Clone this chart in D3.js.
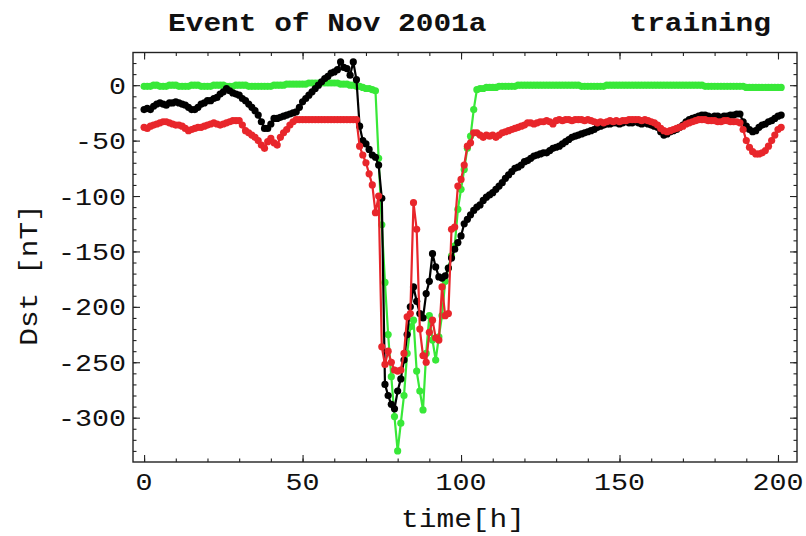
<!DOCTYPE html>
<html>
<head>
<meta charset="utf-8">
<script src="https://cdn.jsdelivr.net/npm/d3@7"></script>
<style>
  html, body { margin: 0; padding: 0; background: #fff; }
  svg { display: block; }
</style>
</head>
<body>
<svg id="chart" width="806" height="536"></svg>
<script>
// Hourly Dst index for the November 2001 storm (training event)
const hours = d3.range(0, 202);

// Observed Dst [nT]
const dstObserved = [
  -22,-21,-22,-19,-17,-16,-17,-18,-16,-16,
  -15,-16,-17,-18,-20,-22,-22,-20,-17,-16,
  -14,-14,-12,-11,-8,-6,-3,-5,-7,-8,
  -9,-12,-14,-17,-20,-23,-27,-33,-39,-39,
  -35,-30,-30,-29,-28,-27,-26,-25,-24,-20,
  -15,-12,-9,-6,-3,0,3,6,8,11,
  12,14,21,16,15,9,21,5,-37,-50,
  -53,-58,-63,-65,-72,-102,-270,-280,-288,-292,
  -276,-265,-248,-225,-200,-182,-195,-206,-210,-188,
  -177,-152,-164,-173,-174,-172,-165,-156,-148,-142,
  -136,-125,-121,-117,-113,-110,-108,-104,-101,-99,
  -97,-94,-91,-88,-84,-81,-78,-75,-74,-72,
  -69,-68,-66,-64,-63,-62,-61,-61,-59,-57,
  -56,-55,-53,-51,-49,-47,-46,-45,-44,-43,
  -42,-41,-40,-38,-37,-36,-35,-35,-34,-34,
  -35,-34,-33,-34,-34,-33,-34,-35,-34,-35,
  -36,-37,-38,-42,-45,-44,-42,-41,-40,-38,
  -36,-33,-31,-30,-29,-28,-27,-27,-28,-29,
  -28,-28,-29,-28,-28,-27,-27,-26,-26,-33,
  -37,-40,-42,-41,-38,-36,-35,-33,-32,-30,
  -28,-27
];

// Predicted Dst, model A (red) [nT]
const dstPredictedA = [
  -38,-39,-37,-36,-35,-34,-33,-33,-34,-35,
  -36,-36,-37,-39,-41,-40,-39,-38,-38,-37,
  -36,-35,-34,-35,-36,-35,-34,-33,-32,-32,
  -32,-36,-41,-43,-45,-47,-50,-54,-57,-51,
  -48,-52,-54,-47,-43,-40,-36,-33,-31,-31,
  -31,-31,-31,-31,-31,-31,-31,-31,-31,-31,
  -31,-31,-31,-31,-31,-31,-31,-31,-55,-63,
  -70,-80,-90,-115,-100,-236,-252,-240,-250,-257,
  -258,-257,-242,-209,-206,-106,-130,-220,-244,-250,
  -223,-212,-228,-230,-182,-208,-206,-130,-128,-91,
  -85,-72,-55,-52,-43,-43,-45,-47,-45,-46,
  -45,-47,-45,-43,-42,-41,-40,-39,-38,-37,
  -36,-34,-34,-35,-34,-33,-33,-32,-33,-35,
  -32,-31,-32,-31,-31,-32,-31,-31,-31,-32,
  -31,-32,-33,-34,-33,-34,-33,-32,-33,-32,
  -33,-32,-32,-31,-31,-31,-31,-32,-31,-32,
  -33,-34,-36,-39,-41,-42,-41,-40,-39,-38,
  -37,-35,-34,-33,-32,-31,-31,-31,-32,-32,
  -32,-33,-33,-32,-32,-33,-33,-33,-34,-40,
  -50,-56,-60,-62,-62,-61,-59,-55,-50,-45,
  -40,-38
];

// Predicted Dst, model B (green) [nT]
const dstPredictedB = [
  -1,-1,-1,0,0,-1,-1,-1,0,0,
  0,-1,-1,-1,-1,0,0,0,-1,-1,
  -1,-1,0,0,0,0,-1,-1,-1,0,
  0,0,0,-1,-1,-1,-1,-1,-1,-1,
  -1,0,0,0,0,1,1,1,1,1,
  1,1,2,2,2,2,2,2,2,2,
  2,2,1,1,1,0,0,-1,-1,-2,
  -3,-3,-4,-5,-66,-126,-178,-225,-263,-299,
  -330,-305,-280,-242,-218,-212,-258,-276,-293,-242,
  -208,-230,-248,-227,-208,-177,-165,-154,-145,-112,
  -94,-76,-57,-46,-22,-4,-3,-3,-2,-2,
  -2,-2,-1,-1,-1,-1,-1,-1,0,0,
  0,0,0,0,0,0,0,0,0,0,
  0,0,0,0,0,0,0,0,-1,-1,
  -1,-1,-1,-1,-1,-1,0,0,0,0,
  0,0,0,0,0,0,0,0,0,0,
  0,0,0,0,0,0,0,0,0,0,
  0,0,0,0,0,0,0,-1,-1,-1,
  -1,-1,-1,-1,-1,-1,-1,-1,-1,-1,
  -2,-2,-2,-2,-2,-2,-2,-2,-2,-2,
  -2,-2
];

const xTicks = [0, 50, 100, 150, 200];
const yTicks = [0, -50, -100, -150, -200, -250, -300];
const xMinorTicks = d3.range(0, 201, 10);
const yMinorTicks = d3.range(-330, 21, 10);

const titleLeft = "Event of Nov 2001a";
const titleRight = "training";
const xLabel = "time[h]";
const yLabel = "Dst [nT]";

const series = [
  { values: dstPredictedB, color: "#38e838" },
  { values: dstObserved,   color: "#000000" },
  { values: dstPredictedA, color: "#e8262b" }
];

// Plot frame in pixels
const frame = { left: 133, right: 797, top: 52.5, bottom: 462 };
const FONT = "'Liberation Mono', 'Courier New', monospace";
const STRETCH = 1.18;

const svg = d3.select("#chart");

const x = d3.scaleLinear().domain([-3.5, 206]).range([frame.left, frame.right]);
const y = d3.scaleLinear().domain([-340, 29.5]).range([frame.bottom, frame.top]);

// Data: lines with a dot at every hour
const line = d3.line().x((d, i) => x(hours[i])).y(d => y(d));
const plot = svg.append("g");
series.forEach(s => {
  const g = plot.append("g");
  g.append("path")
    .attr("d", line(s.values))
    .attr("fill", "none")
    .attr("stroke", s.color)
    .attr("stroke-width", 2.2)
    .attr("stroke-linejoin", "round");
  g.selectAll("circle")
    .data(s.values)
    .join("circle")
    .attr("cx", (d, i) => x(hours[i]))
    .attr("cy", d => y(d))
    .attr("r", 3.6)
    .attr("fill", s.color);
});

// Frame with inward ticks on all four sides
function tickAxis(axis, values, size, transform) {
  const g = svg.append("g")
    .attr("transform", transform)
    .call(axis.tickValues(values).tickSize(-size).tickFormat(""));
  g.select(".domain").remove();
  g.selectAll(".tick line").attr("stroke", "#222").attr("stroke-width", 1.1);
}
tickAxis(d3.axisBottom(x), xTicks, 7, `translate(0,${frame.bottom})`);
tickAxis(d3.axisBottom(x), xMinorTicks, 3.5, `translate(0,${frame.bottom})`);
tickAxis(d3.axisTop(x), xTicks, 7, `translate(0,${frame.top})`);
tickAxis(d3.axisTop(x), xMinorTicks, 3.5, `translate(0,${frame.top})`);
tickAxis(d3.axisLeft(y), yTicks, 7, `translate(${frame.left},0)`);
tickAxis(d3.axisLeft(y), yMinorTicks, 3.5, `translate(${frame.left},0)`);
tickAxis(d3.axisRight(y), yTicks, 7, `translate(${frame.right},0)`);
tickAxis(d3.axisRight(y), yMinorTicks, 3.5, `translate(${frame.right},0)`);

svg.append("rect")
  .attr("x", frame.left).attr("y", frame.top)
  .attr("width", frame.right - frame.left)
  .attr("height", frame.bottom - frame.top)
  .attr("fill", "none").attr("stroke", "#222").attr("stroke-width", 1.4);

// Tick labels
svg.append("g").selectAll("text")
  .data(xTicks).join("text")
  .attr("transform", d => `translate(${x(d)},${frame.bottom + 28}) scale(${STRETCH},1)`)
  .attr("text-anchor", "middle")
  .attr("font-family", FONT).attr("font-size", 24).attr("fill", "#111")
  .text(d => String(d));

svg.append("g").selectAll("text")
  .data(yTicks).join("text")
  .attr("transform", d => `translate(126,${y(d) + 8.5}) scale(${STRETCH},1)`)
  .attr("text-anchor", "end")
  .attr("font-family", FONT).attr("font-size", 24).attr("fill", "#111")
  .text(d => String(d));

// Axis labels and title
svg.append("text")
  .attr("transform", `translate(463,527) scale(${STRETCH},1)`)
  .attr("text-anchor", "middle")
  .attr("font-family", FONT).attr("font-size", 25).attr("fill", "#111")
  .text(xLabel);

svg.append("text")
  .attr("transform", `translate(37,275) rotate(-90) scale(${STRETCH},1)`)
  .attr("text-anchor", "middle")
  .attr("font-family", FONT).attr("font-size", 25).attr("fill", "#111")
  .text(yLabel);

svg.append("text")
  .attr("transform", `translate(168,31) scale(${STRETCH},1)`)
  .attr("text-anchor", "start")
  .attr("font-family", FONT).attr("font-size", 25).attr("font-weight", "bold").attr("fill", "#111")
  .text(titleLeft);

svg.append("text")
  .attr("transform", `translate(771,31) scale(${STRETCH},1)`)
  .attr("text-anchor", "end")
  .attr("font-family", FONT).attr("font-size", 25).attr("font-weight", "bold").attr("fill", "#111")
  .text(titleRight);
</script>
</body>
</html>
